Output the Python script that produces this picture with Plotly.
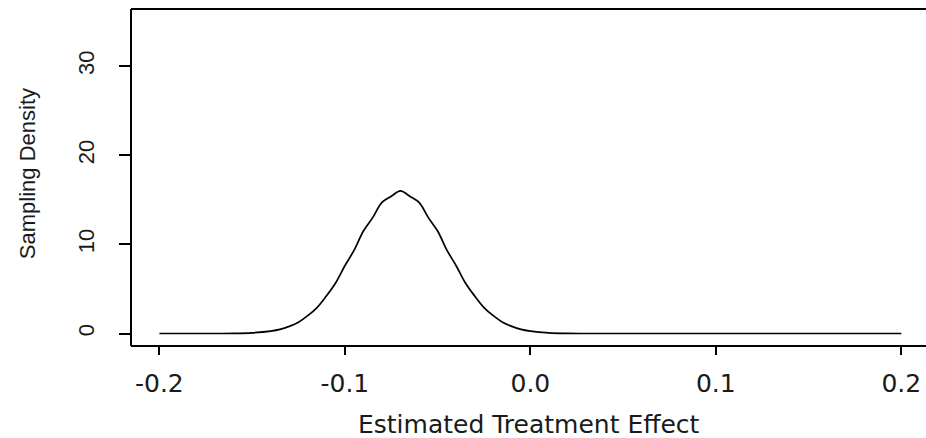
import plotly.graph_objects as go

# Sampling density of the estimated treatment effect
effect = [-0.20, -0.17, -0.16, -0.15, -0.14, -0.135, -0.13, -0.125, -0.12, -0.115,
          -0.11, -0.105, -0.10, -0.095, -0.09, -0.085, -0.08, -0.075, -0.07,
          -0.065, -0.06, -0.055, -0.05, -0.045, -0.04, -0.035, -0.03, -0.025,
          -0.02, -0.015, -0.01, -0.005, 0.00, 0.01, 0.02, 0.03, 0.20]
density = [0.0, 0.0, 0.02, 0.08, 0.27, 0.46, 0.8, 1.27, 2.0, 2.91,
           4.2, 5.67, 7.6, 9.35, 11.5, 13.0, 14.7, 15.4, 16.0,
           15.4, 14.7, 13.0, 11.5, 9.35, 7.6, 5.67, 4.2, 2.91,
           2.0, 1.27, 0.8, 0.46, 0.27, 0.08, 0.02, 0.0, 0.0]

x_ticks = [-0.2, -0.1, 0.0, 0.1, 0.2]
x_tick_labels = ["-0.2", "-0.1", "0.0", "0.1", "0.2"]
y_ticks = [0, 10, 20, 30]
y_tick_labels = ["0", "10", "20", "30"]

ink = "#1a1a1a"

fig = go.Figure(
    go.Scatter(
        x=effect, y=density, mode="lines",
        line=dict(color="black", width=1.7, shape="spline", smoothing=1.0),
        hoverinfo="skip", showlegend=False,
    )
)

# plot frame: left, top and bottom edges (right edge runs past the page)
frame = dict(type="line", xref="paper", yref="paper",
             line=dict(color="black", width=2))
shapes = [
    dict(frame, x0=0, x1=0, y0=0, y1=1),
    dict(frame, x0=0, x1=1, y0=1, y1=1),
    dict(frame, x0=0, x1=1, y0=0, y1=0),
]

fig.update_layout(
    width=926, height=438,
    margin=dict(l=131, r=0, t=9, b=92),
    paper_bgcolor="white", plot_bgcolor="white",
    shapes=shapes,
    xaxis=dict(
        range=[-0.2153, 0.2133], tickvals=x_ticks, ticktext=x_tick_labels,
        showgrid=False, zeroline=False, showline=False,
        ticks="outside", ticklen=8, tickwidth=2, tickcolor="black",
        ticklabelstandoff=7,
        tickfont=dict(family="DejaVu Sans", size=25, color=ink),
    ),
    yaxis=dict(
        range=[-1.4, 36.4], tickvals=y_ticks, ticktext=y_tick_labels,
        showgrid=False, zeroline=False, showline=False,
        ticks="outside", ticklen=11, tickwidth=2, tickcolor="black",
        tickangle=-90, ticklabelstandoff=16,
        tickfont=dict(family="Liberation Sans", size=22, color=ink),
    ),
    annotations=[
        dict(text="Estimated Treatment Effect", xref="paper", yref="paper",
             x=0.5, y=0, xanchor="center", yanchor="middle", yshift=-78,
             showarrow=False,
             font=dict(family="DejaVu Sans", size=25, color=ink)),
        dict(text="Sampling Density", xref="paper", yref="paper",
             x=0, y=0.51, xanchor="center", yanchor="middle", xshift=-104,
             textangle=-90, showarrow=False,
             font=dict(family="Liberation Sans", size=22, color=ink)),
    ],
)

fig.write_html("out.html")
